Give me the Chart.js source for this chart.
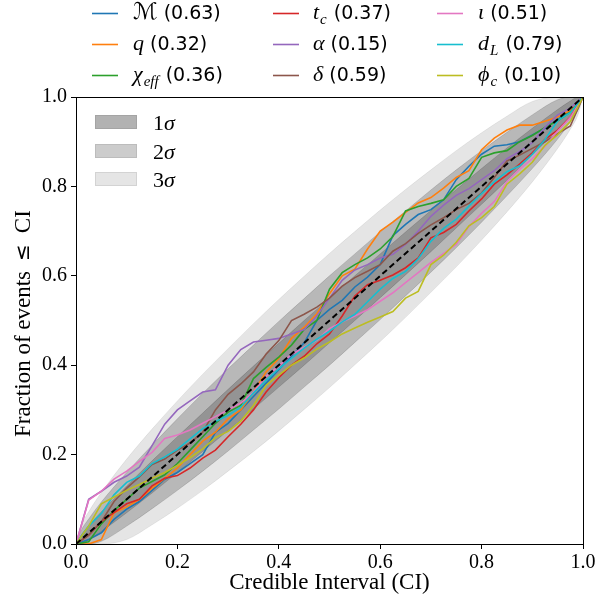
<!DOCTYPE html>
<html><head><meta charset="utf-8">
<script src="https://cdn.jsdelivr.net/npm/chart.js@4.4.0/dist/chart.umd.min.js"></script>
<style>html,body{margin:0;padding:0;background:#fff;}canvas{display:block;}</style>
</head><body>
<canvas id="c" width="609" height="601"></canvas>
<script>
// ---- data ----
const ciGrid = [0,0.025,0.05,0.075,0.1,0.125,0.15,0.175,0.2,0.225,0.25,0.275,0.3,0.325,0.35,0.375,0.4,0.425,0.45,0.475,0.5,0.525,0.55,0.575,0.6,0.625,0.65,0.675,0.7,0.725,0.75,0.775,0.8,0.825,0.85,0.875,0.9,0.925,0.95,0.975,1];
const seriesM      = [0,0.01,0.025,0.055,0.078,0.095,0.12,0.145,0.16,0.18,0.2,0.25,0.27,0.3,0.33,0.36,0.39,0.42,0.45,0.5,0.525,0.545,0.575,0.597,0.625,0.69,0.715,0.737,0.748,0.77,0.815,0.845,0.872,0.89,0.893,0.9,0.915,0.93,0.95,0.97,1];
const seriesQ      = [0,0,0.01,0.07,0.083,0.1,0.125,0.147,0.17,0.2,0.23,0.25,0.28,0.3,0.34,0.385,0.415,0.46,0.485,0.515,0.56,0.6,0.615,0.66,0.7,0.72,0.742,0.763,0.775,0.796,0.82,0.835,0.882,0.908,0.926,0.937,0.937,0.946,0.955,0.97,1];
const seriesChiEff = [0,0.005,0.045,0.075,0.1,0.125,0.14,0.155,0.18,0.21,0.24,0.27,0.295,0.31,0.37,0.395,0.418,0.445,0.48,0.5,0.57,0.607,0.625,0.64,0.66,0.688,0.745,0.755,0.762,0.77,0.8,0.818,0.865,0.875,0.88,0.9,0.914,0.932,0.947,0.966,1];
const seriesTc     = [0,0.02,0.05,0.07,0.09,0.1,0.13,0.147,0.153,0.17,0.192,0.21,0.24,0.268,0.3,0.34,0.372,0.4,0.42,0.448,0.47,0.51,0.555,0.58,0.59,0.602,0.618,0.64,0.685,0.697,0.715,0.745,0.772,0.805,0.826,0.85,0.875,0.905,0.926,0.955,1];
const seriesAlpha  = [0,0.1,0.118,0.138,0.152,0.172,0.22,0.268,0.3,0.32,0.34,0.345,0.4,0.435,0.452,0.456,0.46,0.47,0.48,0.51,0.55,0.59,0.613,0.625,0.64,0.648,0.67,0.7,0.733,0.758,0.78,0.795,0.815,0.835,0.862,0.878,0.898,0.932,0.96,0.975,1];
const seriesDelta  = [0,0.02,0.05,0.095,0.125,0.15,0.178,0.19,0.21,0.226,0.25,0.3,0.335,0.358,0.385,0.425,0.455,0.5,0.514,0.53,0.55,0.577,0.596,0.61,0.625,0.655,0.672,0.695,0.714,0.73,0.748,0.762,0.785,0.82,0.857,0.87,0.885,0.9,0.918,0.935,1];
const seriesIota   = [0,0.098,0.118,0.145,0.163,0.185,0.205,0.236,0.244,0.255,0.27,0.285,0.3,0.315,0.34,0.375,0.398,0.424,0.44,0.456,0.482,0.497,0.51,0.524,0.543,0.562,0.585,0.607,0.63,0.65,0.67,0.71,0.74,0.766,0.811,0.838,0.862,0.89,0.924,0.954,1];
const seriesDL     = [0,0.04,0.068,0.11,0.138,0.152,0.18,0.195,0.212,0.235,0.258,0.274,0.288,0.306,0.338,0.366,0.392,0.415,0.438,0.458,0.476,0.497,0.514,0.542,0.57,0.594,0.61,0.638,0.677,0.706,0.727,0.756,0.784,0.81,0.833,0.846,0.872,0.905,0.947,0.965,1];
const seriesPhiC   = [0,0.04,0.09,0.105,0.12,0.133,0.147,0.16,0.176,0.193,0.213,0.238,0.252,0.275,0.31,0.355,0.378,0.4,0.416,0.436,0.452,0.47,0.483,0.496,0.508,0.52,0.55,0.565,0.625,0.646,0.675,0.712,0.73,0.755,0.805,0.828,0.854,0.892,0.916,0.945,1];

const seriesSymbols = ['ℳ','q','χ','t','α','δ','ι','d','ϕ'];
const seriesSubs    = ['','','eff','c','','','','L','c'];
const seriesPvalues = ['0.63','0.32','0.36','0.37','0.15','0.59','0.51','0.79','0.10'];
const seriesColors  = ['#1f77b4','#ff7f0e','#2ca02c','#d62728','#9467bd','#8c564b','#e377c2','#17becf','#bcbd22'];
const seriesValues  = [seriesM,seriesQ,seriesChiEff,seriesTc,seriesAlpha,seriesDelta,seriesIota,seriesDL,seriesPhiC];

// confidence bands
const bandX      = [0,0.01,0.025,0.05,0.1,0.15,0.2,0.25,0.3,0.35,0.4,0.45,0.5,0.55,0.6,0.65,0.7,0.75,0.8,0.85,0.9,0.95,0.975,0.99,1];
const band1Upper = [0,0.020,0.041,0.072,0.130,0.186,0.240,0.293,0.346,0.398,0.449,0.500,0.550,0.600,0.649,0.698,0.746,0.793,0.840,0.886,0.930,0.972,0.991,1,1];
const band1Lower = [0,0,0.009,0.028,0.070,0.114,0.160,0.207,0.254,0.302,0.351,0.400,0.450,0.500,0.551,0.602,0.654,0.707,0.760,0.814,0.870,0.928,0.959,0.980,1];
const band2Upper = [0,0.030,0.056,0.094,0.160,0.221,0.280,0.337,0.392,0.445,0.498,0.549,0.600,0.649,0.698,0.745,0.792,0.837,0.880,0.921,0.960,0.994,1,1,1];
const band2Lower = [0,0,0,0.006,0.040,0.079,0.120,0.163,0.208,0.255,0.302,0.351,0.400,0.451,0.502,0.555,0.608,0.663,0.720,0.779,0.840,0.906,0.944,0.970,1];
const band3Upper = [0,0.040,0.072,0.115,0.190,0.257,0.320,0.380,0.437,0.493,0.547,0.599,0.650,0.699,0.747,0.793,0.837,0.880,0.920,0.957,0.990,1,1,1,1];
const band3Lower = [0,0,0,0,0.010,0.043,0.080,0.120,0.163,0.207,0.253,0.301,0.350,0.401,0.453,0.507,0.563,0.620,0.680,0.743,0.810,0.885,0.928,0.960,1];
const bandLabels = ['1σ','2σ','3σ'];
const bandAlphas = [0.2,0.2,0.1];
const bandLegendColors = ['#b2b2b2','#cccccc','#e5e5e5'];

const tickLabels = ['0.0','0.2','0.4','0.6','0.8','1.0'];
const diagonal = [0,1];

// ---- datasets ----
const datasets = [];
datasets.push({label:'diag', data: diagonal.map(v=>({x:v,y:v})), borderColor:'#000', borderWidth:2,
  borderDash:[6,3.5], pointRadius:0, fill:false, order:0});
seriesValues.forEach((vals,i)=>{
  datasets.push({label: seriesSymbols[i]+seriesSubs[i], data: ciGrid.map((x,j)=>({x:x,y:vals[j]})),
    borderColor: seriesColors[i], borderWidth:1.6, pointRadius:0, fill:false, order: 9-i+1});
});
const bandsUp = [band1Upper,band2Upper,band3Upper];
const bandsLo = [band1Lower,band2Lower,band3Lower];
for (let k=2;k>=0;k--){
  const col = 'rgba(0,0,0,'+bandAlphas[k]+')';
  datasets.push({label:bandLabels[k]+'u', data: bandX.map((x,j)=>({x:x,y:bandsUp[k][j]})), fill:'+1',
    backgroundColor: col, borderColor: col, borderWidth:0.7, pointRadius:0, cubicInterpolationMode:'monotone', order:50});
  datasets.push({label:bandLabels[k]+'l', data: bandX.map((x,j)=>({x:x,y:bandsLo[k][j]})), fill:false,
    backgroundColor: col, borderColor: col, borderWidth:0.7, pointRadius:0, cubicInterpolationMode:'monotone', order:50});
}

// ---- decorations plugin ----
function drawLabel(ctx, x, base, sym, sub, pv){
  let w;
  if (sym==='ℳ'){ ctx.font = '23px "DejaVu Serif", "DejaVu Sans"'; }
  else { ctx.font = 'italic 22px "Liberation Serif", "DejaVu Serif"'; }
  ctx.fillText(sym, x, base); w = ctx.measureText(sym).width;
  if (sub){ ctx.font = 'italic 15px "Liberation Serif"'; ctx.fillText(sub, x+w+1, base+5); w += ctx.measureText(sub).width+2; }
  ctx.font = '19px "DejaVu Sans"';
  ctx.fillText(' ('+pv+')', x+w, base);
}
const decor = {
  id:'decor',
  afterDatasetsDraw(chart){
    const ctx = chart.ctx, a = chart.chartArea;
    ctx.save();
    // band legend
    const rowsY = [122,151,179];
    for (let k=0;k<3;k++){
      ctx.fillStyle = bandLegendColors[k];
      ctx.fillRect(95, rowsY[k]-7, 42, 14);
      ctx.strokeStyle = 'rgba(0,0,0,0.08)'; ctx.lineWidth=1;
      ctx.strokeRect(95.5, rowsY[k]-6.5, 41, 13);
      ctx.fillStyle = '#000'; ctx.textBaseline='alphabetic';
      ctx.font = '22px "Liberation Serif"';
      const num = bandLabels[k].charAt(0);
      ctx.fillText(num, 153, rowsY[k]+8);
      const w = ctx.measureText(num).width;
      ctx.font = 'italic 22px "Liberation Serif"';
      ctx.fillText(bandLabels[k].slice(1), 153+w, rowsY[k]+8);
    }
    // frame
    ctx.strokeStyle = '#000'; ctx.lineWidth = 1;
    ctx.strokeRect(Math.round(a.left)+0.5, Math.round(a.top)+0.5, Math.round(a.right-a.left), Math.round(a.bottom-a.top));
    ctx.restore();
  },
  afterDraw(chart){
    const ctx = chart.ctx;
    ctx.save();
    const lineX = [92,273,437], textX = [133,313,478], rowY = [13,44,75];
    for (let i=0;i<9;i++){
      const c = Math.floor(i/3), r = i%3;
      ctx.strokeStyle = seriesColors[i]; ctx.lineWidth = 1.6;
      ctx.beginPath(); ctx.moveTo(lineX[c], rowY[r]+0.5); ctx.lineTo(lineX[c]+26, rowY[r]+0.5); ctx.stroke();
      ctx.fillStyle = '#000'; ctx.textBaseline='alphabetic';
      drawLabel(ctx, textX[c], rowY[r]+6, seriesSymbols[i], seriesSubs[i], seriesPvalues[i]);
    }
    // y-axis title (mixed fonts)
    ctx.translate(24, 437); ctx.rotate(-Math.PI/2);
    ctx.fillStyle = '#000'; ctx.textBaseline = 'middle'; ctx.textAlign = 'left';
    ctx.font = '23px "Liberation Serif"';
    const p1 = 'Fraction of events';
    ctx.fillText(p1, 0, 0);
    let x = ctx.measureText(p1).width + 10;
    ctx.font = '20px "DejaVu Sans"';
    ctx.fillText('≤', x, 0);
    x += ctx.measureText('≤').width + 11;
    ctx.font = '23px "Liberation Serif"';
    ctx.fillText('CI', x, 0);
    ctx.restore();
  }
};

const tickFont = {family:'"Liberation Serif", "Times New Roman", serif', size:20};
const titleFont = {family:'"Liberation Serif", "Times New Roman", serif', size:23};
new Chart(document.getElementById('c'), {
  type:'line',
  data:{datasets:datasets},
  options:{
    responsive:false, animation:false, devicePixelRatio:1,
    layout:{padding:{top:97,right:26,left:0,bottom:0}},
    plugins:{legend:{display:false}, tooltip:{enabled:false}, filler:{drawTime:'beforeDatasetsDraw'}},
    scales:{
      x:{type:'linear', min:0, max:1, afterFit:s=>{s.height=57;},
        ticks:{stepSize:0.2, callback:(v,i)=>tickLabels[i], font:tickFont, color:'#000', padding:2, maxRotation:0},
        grid:{display:true, drawOnChartArea:false, drawTicks:true, tickLength:5, color:'#000'},
        border:{display:true, color:'#000', width:1},
        title:{display:true, text:'Credible Interval (CI)', font:titleFont, color:'#000', padding:{top:0,bottom:4}}},
      y:{type:'linear', min:0, max:1, afterFit:s=>{s.width=76;},
        ticks:{stepSize:0.2, callback:(v,i)=>tickLabels[i], font:tickFont, color:'#000', padding:4},
        grid:{display:true, drawOnChartArea:false, drawTicks:true, tickLength:5, color:'#000'},
        border:{display:true, color:'#000', width:1},
        title:{display:false}}
    }
  },
  plugins:[decor]
});
</script>
</body></html>
